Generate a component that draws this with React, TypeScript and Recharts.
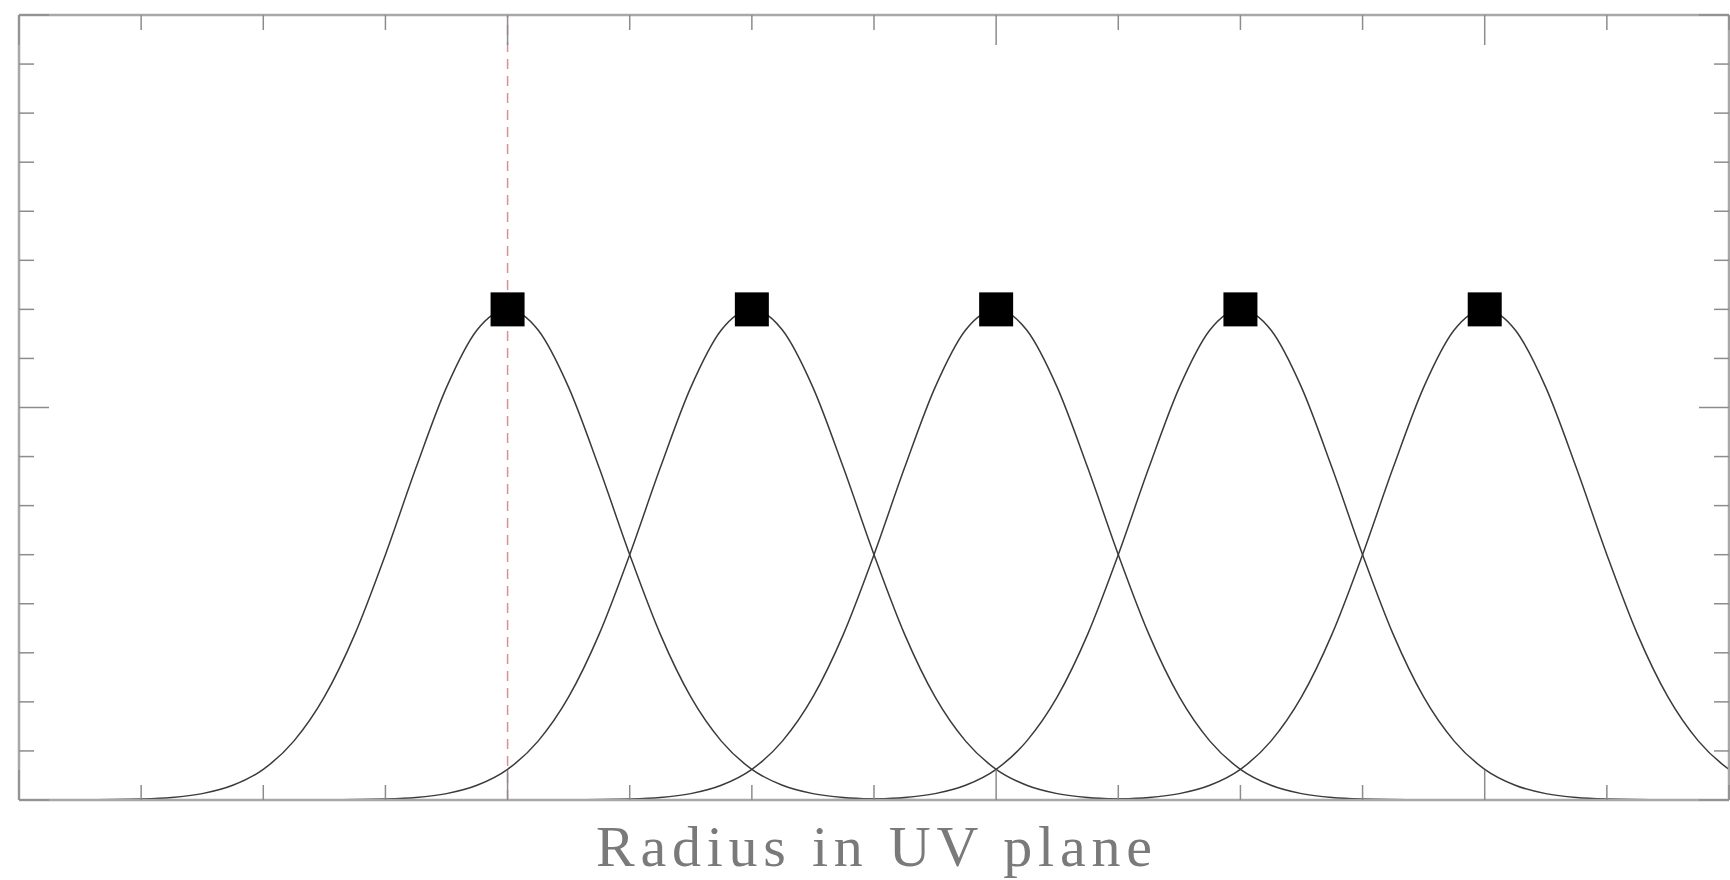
import {
  ComposedChart,
  Line,
  Scatter,
  XAxis,
  YAxis,
  ReferenceLine,
} from "recharts";

// peak positions of the five gaussian rings (in x-tick units)
const centers = [4, 6, 8, 10, 12];
const peakValue = 1.0;

// one ring profile: offset from centre -> height
const profileOffsets = [0, 0.25, 0.5, 0.75, 1, 1.25, 1.5, 1.75, 2, 2.25, 2.5, 2.75, 3, 3.5, 4];
const profileValues = [1.0, 0.958, 0.841, 0.677, 0.5, 0.338, 0.21, 0.12, 0.0625, 0.03, 0.013, 0.005, 0.002, 0.0002, 0];

const xTicks = [0, 1, 2, 3, 4, 5, 6, 7, 8, 9, 10, 11, 12, 13, 14];
const xMajor = [0, 4, 8, 12];
const yTicks = [0, 0.1, 0.2, 0.3, 0.4, 0.5, 0.6, 0.7, 0.8, 0.9, 1.0, 1.1, 1.2, 1.3, 1.4, 1.5, 1.6];
const yMajor = [0, 0.8, 1.6];

const markerLine = 4;
const xTitle = "Radius in UV plane";

const W = 1730;
const H = 880;
// axes take 1px each, so the plot box runs 19..1729 x 15..800
const M = { top: 14, right: 0, bottom: 79, left: 18 };
const TOP = 15;
const BOTTOM = 800;
const LEFT = 19;
const RIGHT = 1729;

const FRAME = "#a8a8a8";
const TICK = "#8c8c8c";

// build each curve from the shared profile
const curves = centers.map((c) => {
  const pts: { x: number; y: number }[] = [];
  for (let i = profileOffsets.length - 1; i > 0; i--) {
    pts.push({ x: c - profileOffsets[i], y: profileValues[i] });
  }
  profileOffsets.forEach((d, i) => pts.push({ x: c + d, y: profileValues[i] }));
  return pts;
});

const peaks = centers.map((c) => ({ x: c, y: peakValue }));

const isMajor = (list: number[], v: number) =>
  list.some((m) => Math.abs(m - v) < 1e-6);

const BottomTick = (p: any) => {
  const len = isMajor(xMajor, p.payload.value) ? 30 : 15;
  return <line x1={p.x} x2={p.x} y1={BOTTOM} y2={BOTTOM - len} stroke={TICK} strokeWidth={1.5} />;
};

const TopTick = (p: any) => {
  const len = isMajor(xMajor, p.payload.value) ? 30 : 15;
  return <line x1={p.x} x2={p.x} y1={TOP} y2={TOP + len} stroke={TICK} strokeWidth={1.5} />;
};

const LeftTick = (p: any) => {
  const len = isMajor(yMajor, p.payload.value) ? 30 : 15;
  return <line x1={LEFT} x2={LEFT + len} y1={p.y} y2={p.y} stroke={TICK} strokeWidth={1.5} />;
};

const RightTick = (p: any) => {
  const len = isMajor(yMajor, p.payload.value) ? 30 : 15;
  return <line x1={RIGHT} x2={RIGHT - len} y1={p.y} y2={p.y} stroke={TICK} strokeWidth={1.5} />;
};

const SquareMarker = (p: any) => (
  <rect x={p.cx - 17} y={p.cy - 17} width={34} height={34} fill="#000" />
);

const NoMarker = () => <g />;

const XTitle = () => (
  <text
    x={(LEFT + RIGHT) / 2}
    y={BOTTOM + 66}
    textAnchor="middle"
    fontFamily="Liberation Serif"
    fontSize={58}
    fill="#7a7a7a"
    textLength={556}
    lengthAdjust="spacing"
  >
    {xTitle}
  </text>
);

export default function App() {
  return (
    <div style={{ position: "absolute", left: 0, top: 0, background: "#fff" }}>
      <ComposedChart width={W} height={H} margin={M}>
        <XAxis
          xAxisId="b"
          type="number"
          dataKey="x"
          domain={[0, 14]}
          ticks={xTicks}
          interval={0}
          allowDataOverflow
          height={1}
          tickLine={false}
          axisLine={{ stroke: FRAME, strokeWidth: 2.5 }}
          tick={BottomTick}
          label={{ content: XTitle }}
        />
        <XAxis
          xAxisId="t"
          orientation="top"
          type="number"
          dataKey="x"
          domain={[0, 14]}
          ticks={xTicks}
          interval={0}
          allowDataOverflow
          height={1}
          tickLine={false}
          axisLine={{ stroke: FRAME, strokeWidth: 2.5 }}
          tick={TopTick}
        />
        <YAxis
          yAxisId="l"
          type="number"
          domain={[0, 1.6]}
          ticks={yTicks}
          interval={0}
          allowDataOverflow
          width={1}
          tickLine={false}
          axisLine={{ stroke: FRAME, strokeWidth: 2.5 }}
          tick={LeftTick}
        />
        <YAxis
          yAxisId="r"
          orientation="right"
          type="number"
          domain={[0, 1.6]}
          ticks={yTicks}
          interval={0}
          allowDataOverflow
          width={1}
          tickLine={false}
          axisLine={{ stroke: FRAME, strokeWidth: 2.5 }}
          tick={RightTick}
        />

        {curves.map((pts, i) => (
          <Line
            key={i}
            xAxisId="b"
            yAxisId="l"
            data={pts}
            dataKey="y"
            type="monotone"
            stroke="#3a3a3a"
            strokeWidth={1.5}
            dot={false}
            activeDot={false}
            isAnimationActive={false}
          />
        ))}

        <ReferenceLine
          xAxisId="b"
          yAxisId="l"
          x={markerLine}
          stroke="#d99090"
          strokeWidth={1.5}
          strokeDasharray="10 7"
        />

        {/* invisible series so the top/right axes get their ticks */}
        <Scatter
          xAxisId="t"
          yAxisId="r"
          data={peaks}
          dataKey="y"
          shape={NoMarker}
          isAnimationActive={false}
        />

        <Scatter
          xAxisId="b"
          yAxisId="l"
          data={peaks}
          dataKey="y"
          shape={SquareMarker}
          isAnimationActive={false}
        />
      </ComposedChart>
    </div>
  );
}
